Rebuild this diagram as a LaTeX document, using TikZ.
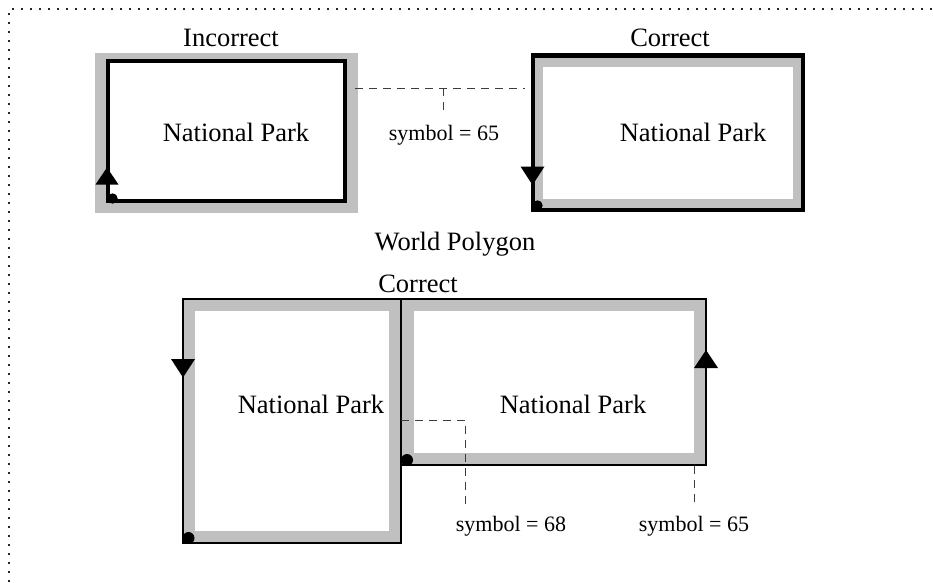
\documentclass[tikz,border=0pt]{standalone}
\usepackage{fontspec}
\setmainfont{Liberation Serif}
\definecolor{band}{RGB}{192,192,192}
\definecolor{leadgray}{RGB}{60,60,60}
\begin{document}
\begin{tikzpicture}[x=1pt,y=-1pt,
  lbl/.style={font=\fontsize{26.5}{30}\selectfont, anchor=base, inner sep=0pt},
  sym/.style={font=\fontsize{22}{26}\selectfont, anchor=base, inner sep=0pt},
  leader/.style={draw=leadgray, line width=1pt, dash pattern=on 8pt off 6pt},
  frame/.style={draw=black!85, line width=1.3pt, dash pattern=on 1.6pt off 7.4pt},
  heavy/.style={draw=black, line width=4.3pt, line join=miter},
  thin/.style={draw=black, line width=2pt},
  tipmark/.style={fill=black},
  startdot/.style={fill=black},
]
\useasboundingbox (0,0) rectangle (933,582);

% dotted outline of the figure panel
\draw[frame] (9,582) -- (9,9) -- (933,9);

% ---------- Incorrect: ring traced the wrong way ----------
\fill[band]  (95,53) rectangle (358,213);
\fill[white] (108,61) rectangle (345,201);
\draw[heavy] (108,61) rectangle (345,201);
\fill[tipmark] (95.5,184.5) -- (118.5,184.5) -- (107,167.5) -- cycle;
\fill[startdot] (112.5,198.5) circle[radius=5.2pt];
\node[lbl] (incT) at (231,46.5) {Incorrect};
\node[lbl] (incP) at (236,141.7) {National Park};
\coordinate (incE) at (355,88);

% ---------- Correct: ring traced the right way ----------
\fill[band]  (533,55.5) rectangle (803,210);
\fill[white] (543,67) rectangle (793,199);
\draw[heavy] (533,55.5) rectangle (803,210);
\fill[tipmark] (520.5,166.5) -- (544.5,166.5) -- (532.5,185) -- cycle;
\fill[startdot] (537.5,205.5) circle[radius=5.2pt];
\node[lbl] (corT) at (670,46.5) {Correct};
\node[lbl] (corP) at (693,141.7) {National Park};
\coordinate (corW) at (525,88);

% shared edge label between the two upper rings
\coordinate (jA) at (443,88);
\coordinate (jAend) at (443,114);
\node[sym] (s65a) at (444,140) {symbol = 65};
\draw[leader] (incE) -- (corW);
\draw[leader] (jA) -- (jAend);

\node[lbl] (world) at (455,250) {World Polygon};

% ---------- Correct: two adjoining rings ----------
\node[lbl] (botT) at (418,292) {Correct};
\fill[band]  (183,299) rectangle (401,543);
\fill[band]  (401,299) rectangle (706,465);
\fill[white] (195,311) rectangle (389,531);
\fill[white] (414,311) rectangle (694,453);
\draw[thin] (183,299) rectangle (401,543);
\draw[thin] (401,299) rectangle (706,465);
\fill[tipmark] (171,359) -- (195,359) -- (183,377.5) -- cycle;
\fill[tipmark] (694,368) -- (718,368) -- (706,350) -- cycle;
\fill[startdot] (188.5,538) circle[radius=6pt];
\fill[startdot] (407,460) circle[radius=6pt];
\node[lbl] (lP) at (311,413) {National Park};
\node[lbl] (rP) at (573,413) {National Park};

% edge labels of the lower rings
\coordinate (sharedE) at (401,420);
\coordinate (bend) at (465,420);
\coordinate (bendEnd) at (465,505);
\coordinate (rBot) at (694,466);
\coordinate (rBotEnd) at (694,505);
\node[sym] (s68) at (511,531) {symbol = 68};
\node[sym] (s65b) at (694,531) {symbol = 65};
\draw[leader] (sharedE) -- (bend) -- (bendEnd);
\draw[leader] (rBot) -- (rBotEnd);
\end{tikzpicture}
\end{document}
